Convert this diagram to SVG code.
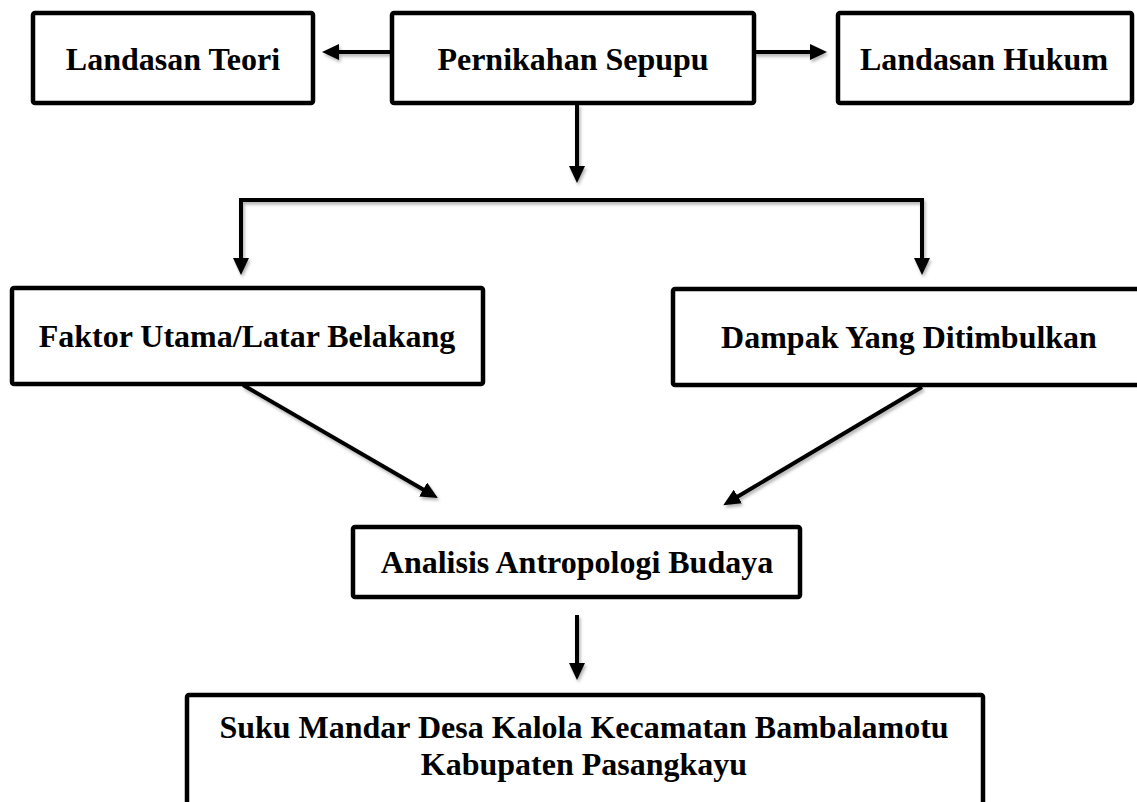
<svg xmlns="http://www.w3.org/2000/svg" width="1137" height="802" viewBox="0 0 1137 802">
<style>
.box{fill:#fff;stroke:#000;stroke-width:4.5;}
.lbl{font-family:"Liberation Serif","Times New Roman",serif;font-weight:bold;font-size:32px;fill:#000;text-anchor:middle;}
.con{fill:none;stroke:#000;stroke-width:4;stroke-linejoin:miter;}
</style>
<defs>
<marker id="ah" markerUnits="userSpaceOnUse" markerWidth="17" markerHeight="16" refX="1" refY="8" orient="auto">
<path d="M0,0 L17,8 L0,16 Z" fill="#000"/>
</marker>
<filter id="sh" x="-10%" y="-10%" width="120%" height="130%">
<feDropShadow dx="1.5" dy="2.5" stdDeviation="1.5" flood-color="#000" flood-opacity="0.3"/>
</filter>
</defs>
<rect width="1137" height="802" fill="#fff"/>
<g id="connectors" filter="url(#sh)">
<line class="con" x1="392" y1="52" x2="338" y2="52" marker-end="url(#ah)"/>
<line class="con" x1="754" y1="52" x2="811" y2="52" marker-end="url(#ah)"/>
<line class="con" x1="577" y1="104" x2="577" y2="167" marker-end="url(#ah)"/>
<path class="con" d="M579,200 H241 V259" marker-end="url(#ah)"/>
<path class="con" d="M575,200 H922 V259" marker-end="url(#ah)"/>
<line class="con" x1="243" y1="385" x2="424" y2="490" marker-end="url(#ah)"/>
<line class="con" x1="922" y1="387" x2="737" y2="497" marker-end="url(#ah)"/>
<line class="con" x1="577" y1="615" x2="577" y2="664" marker-end="url(#ah)"/>
</g>
<g id="landasan-teori">
<rect class="box" x="33" y="13" width="280" height="90" rx="2"/>
<text class="lbl" x="173" y="70">Landasan Teori</text>
</g>
<g id="pernikahan-sepupu">
<rect class="box" x="392" y="13" width="362" height="90" rx="2"/>
<text class="lbl" x="573" y="70">Pernikahan Sepupu</text>
</g>
<g id="landasan-hukum">
<rect class="box" x="838" y="13" width="294" height="90" rx="2"/>
<text class="lbl" x="984" y="70">Landasan Hukum</text>
</g>
<g id="faktor-utama">
<rect class="box" x="12" y="288" width="471" height="96" rx="2"/>
<text class="lbl" x="247" y="347">Faktor Utama/Latar Belakang</text>
</g>
<g id="dampak">
<rect class="box" x="673" y="289" width="480" height="96" rx="2"/>
<text class="lbl" x="909" y="348">Dampak Yang Ditimbulkan</text>
</g>
<g id="analisis">
<rect class="box" x="353" y="527" width="447" height="70" rx="2"/>
<text class="lbl" x="577" y="573">Analisis Antropologi Budaya</text>
</g>
<g id="suku-mandar">
<rect class="box" x="187" y="695" width="796" height="130" rx="2"/>
<text class="lbl" x="584" y="738">Suku Mandar Desa Kalola Kecamatan Bambalamotu</text>
<text class="lbl" x="584" y="775">Kabupaten Pasangkayu</text>
</g>
</svg>
